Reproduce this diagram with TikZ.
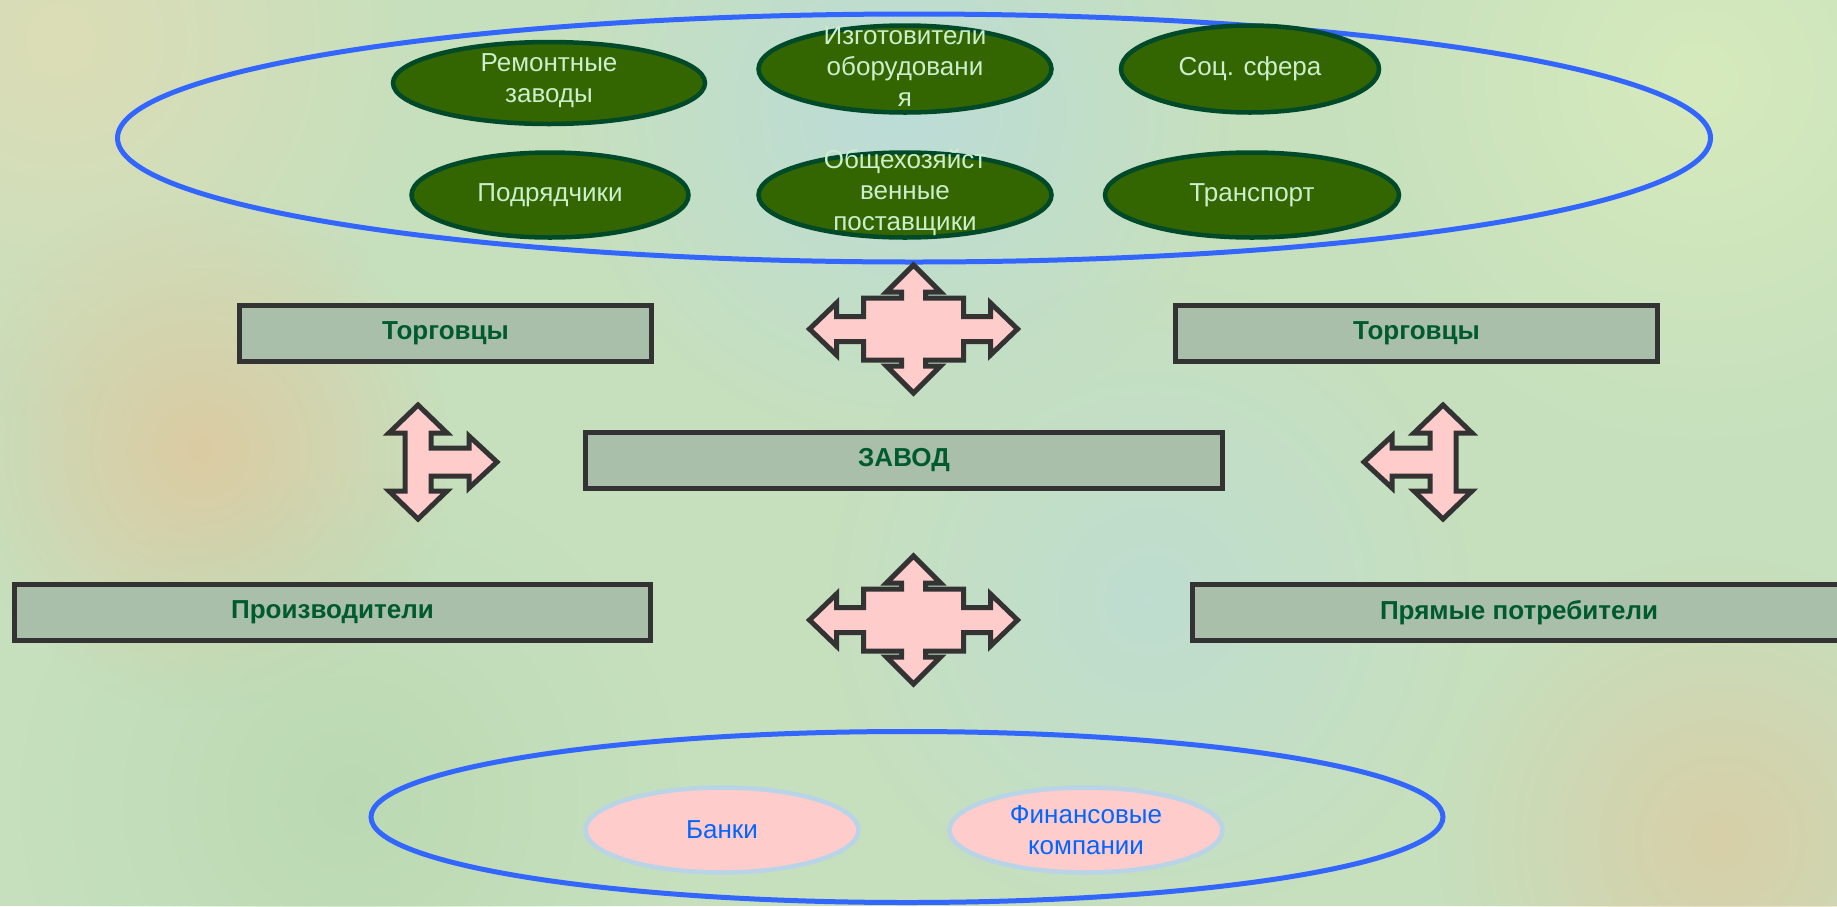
\documentclass[tikz,border=0pt]{standalone}
\usepackage{fontspec}
\setmainfont{Liberation Sans}
\usetikzlibrary{shapes.geometric,fadings}

\definecolor{bgbase}{HTML}{C6E0BE}
\definecolor{bgtan}{HTML}{DCCBA2}
\definecolor{bgbeige}{HTML}{DCDDB6}
\definecolor{bgblue}{HTML}{BCDCD8}
\definecolor{bglime}{HTML}{D6EABC}
\definecolor{bgdeep}{HTML}{B8D8B0}
\definecolor{ovalfill}{HTML}{336600}
\definecolor{ovaledge}{HTML}{004A2A}
\definecolor{ovaltext}{HTML}{CCEECC}
\definecolor{ringblue}{HTML}{3366FF}
\definecolor{boxfill}{HTML}{A9BFA9}
\definecolor{boxedge}{HTML}{333333}
\definecolor{boxtext}{HTML}{005A30}
\definecolor{pinkfill}{HTML}{FFCCCC}
\definecolor{pinkedge}{HTML}{B8D4E6}
\definecolor{finblue}{HTML}{0066FF}

\tikzfading[name=softspot, inner color=transparent!0, outer color=transparent!100]

\begin{document}
\begin{tikzpicture}[x=1pt,y=-1pt,
  greenoval/.style={ellipse,draw=ovaledge,fill=ovalfill,line width=4.5pt,inner sep=0pt},
  ovallabel/.style={text=ovaltext,font=\fontsize{26}{31}\selectfont,align=center},
  ring/.style={ellipse,draw=ringblue,line width=5pt,inner sep=0pt},
  bar/.style={rectangle,draw=boxedge,fill=boxfill,line width=5pt,inner sep=0pt,
    minimum height=56pt,text=boxtext,font=\fontsize{26}{31}\selectfont\bfseries},
  pinkoval/.style={ellipse,draw=pinkedge,fill=pinkfill,line width=4.5pt,inner sep=0pt,
    minimum width=273pt,minimum height=85pt},
  pinklabel/.style={text=finblue,font=\fontsize{26}{31}\selectfont,align=center},
  blockarrow/.style={draw=boxedge,fill=pinkfill,line width=5pt,line join=miter},
  spot/.style={path fading=softspot,fit fading=true}
]
\useasboundingbox (0,0) rectangle (1837,906);

% background wash with soft colour spots
\fill[bgbase] (0,0) rectangle (1837,906);
\begin{scope}
\clip (0,0) rectangle (1837,906);
\fill[bgbeige,spot] (60,40) circle (380);
\fill[bgtan,spot] (200,450) circle (260);
\fill[bgblue,spot] (900,110) circle (330);
\fill[bglime,spot] (1700,80) circle (380);
\fill[bgtan,spot,opacity=0.8] (1720,840) circle (300);
\fill[bgblue,spot,opacity=0.7] (1150,600) circle (320);
\fill[bgdeep,spot,opacity=0.8] (350,800) circle (330);
\end{scope}

% outer rings
\node[ring,minimum width=1593pt,minimum height=248pt] (bigtop) at (914,138) {};
\node[ring,minimum width=1072pt,minimum height=171pt] (bigbot) at (907,817) {};

% upper group of partners
\node[greenoval,minimum width=312pt,minimum height=82pt] (rem) at (549,83) {};
\node[greenoval,minimum width=293pt,minimum height=87pt] (izg) at (905,69) {};
\node[greenoval,minimum width=258pt,minimum height=87pt] (soc) at (1250,69) {};
\node[greenoval,minimum width=277pt,minimum height=85pt] (podr) at (550,195) {};
\node[greenoval,minimum width=293pt,minimum height=85pt] (obsch) at (905,195) {};
\node[greenoval,minimum width=294pt,minimum height=85pt] (trans) at (1252,195) {};

\node[ovallabel] at ([yshift=2pt]rem.center) {Ремонтные\\заводы};
\node[ovallabel] at ([yshift=2pt]izg.center) {Изготовители\\оборудовани\\я};
\node[ovallabel] at (soc.center) {Соц. сфера};
\node[ovallabel] at (podr.center) {Подрядчики};
\node[ovallabel] at ([yshift=3pt]obsch.center) {Общехозяйст\\венные\\поставщики};
\node[ovallabel] at (trans.center) {Транспорт};

% trading and production blocks
\node[bar,minimum width=412pt] (torgL) at (445.5,333.5) {Торговцы};
\node[bar,minimum width=482pt] (torgR) at (1416.5,333.5) {Торговцы};
\node[bar,minimum width=637pt] (zavod) at (904,460.5) {ЗАВОД};
\node[bar,minimum width=636pt] (proizv) at (332.5,612.5) {Производители};
\node[bar,minimum width=653pt] (pryam) at (1519,612.5) {Прямые потребители};

% financial partners
\node[pinkoval] (banki) at (722,830) {};
\node[pinkoval] (fin) at (1086,830) {};
\node[pinklabel] at (banki.center) {Банки};
\node[pinklabel] at (fin.center) {Финансовые\\компании};

% block arrows
\coordinate (crossA) at (913.5,329);
\coordinate (crossB) at (913.5,620);
\coordinate (teeL) at (418,462);
\coordinate (teeR) at (1443,462);

\foreach \c in {crossA,crossB}{
  \draw[blockarrow,shift={(\c)}]
    (0,-64) -- (27,-37) -- (12,-37) -- (12,-31) -- (50,-31) -- (50,-12.5) -- (77,-12.5)
    -- (77,-26) -- (104,0) -- (77,26) -- (77,12.5) -- (50,12.5) -- (50,31) -- (12,31)
    -- (12,37) -- (27,37) -- (0,64) -- (-27,37) -- (-12,37) -- (-12,31) -- (-50,31)
    -- (-50,12.5) -- (-77,12.5) -- (-77,26) -- (-104,0) -- (-77,-26) -- (-77,-12.5)
    -- (-50,-12.5) -- (-50,-31) -- (-12,-31) -- (-12,-37) -- (-27,-37) -- cycle;
}
\draw[blockarrow,shift={(teeL)}]
  (0,-57) -- (29,-29) -- (13,-29) -- (13,-14) -- (51,-14) -- (51,-26) -- (79,0)
  -- (51,26) -- (51,14) -- (13,14) -- (13,29) -- (29,29) -- (0,57) -- (-29,29)
  -- (-13,29) -- (-13,-29) -- (-29,-29) -- cycle;
\draw[blockarrow,shift={(teeR)},xscale=-1]
  (0,-57) -- (29,-29) -- (13,-29) -- (13,-14) -- (51,-14) -- (51,-26) -- (79,0)
  -- (51,26) -- (51,14) -- (13,14) -- (13,29) -- (29,29) -- (0,57) -- (-29,29)
  -- (-13,29) -- (-13,-29) -- (-29,-29) -- cycle;
\end{tikzpicture}
\end{document}
